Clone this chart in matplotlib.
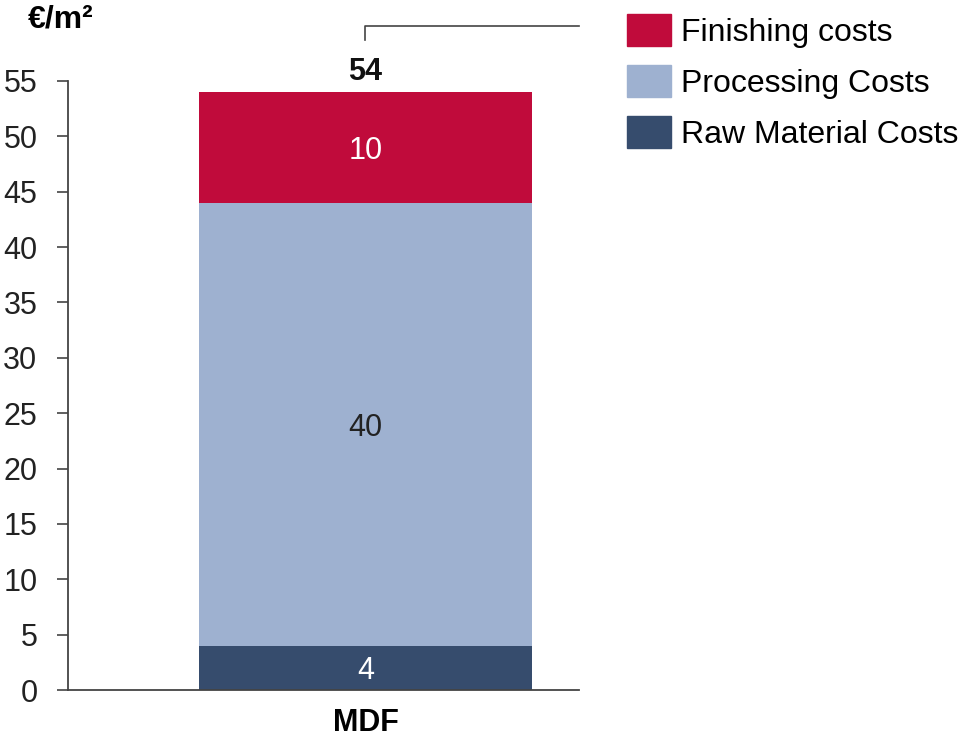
import matplotlib.pyplot as plt
from matplotlib.patches import Patch

plt.rcParams['font.family'] = ['Liberation Sans', 'DejaVu Sans']

categories = ['MDF']
series_names = ['Raw Material Costs', 'Processing Costs', 'Finishing costs']
raw_material = [4]
processing = [40]
finishing = [10]
totals = [54]
y_ticks = [0, 5, 10, 15, 20, 25, 30, 35, 40, 45, 50, 55]

colors = ['#364c6d', '#9eb1d0', '#c00b3b']
label_colors = ['white', '#222222', 'white']
fs = 22

fig = plt.figure(figsize=(9.58, 7.41), dpi=100)
ax = fig.add_axes([68 / 958, 1 - 690 / 741, 511 / 958, 609 / 741])

x = list(range(len(categories)))
bottom = [0] * len(categories)
for name, vals, col, lc in zip(series_names, [raw_material, processing, finishing], colors, label_colors):
    ax.bar(x, vals, width=1.0, bottom=bottom, color=col, label=name, linewidth=0)
    for xi, v, b in zip(x, vals, bottom):
        ax.text(xi, b + v / 2, str(v), ha='center', va='center_baseline', fontsize=fs, color=lc)
    bottom = [b + v for b, v in zip(bottom, vals)]

for xi, t in zip(x, totals):
    ax.text(xi, t + 1.1, str(t), ha='center', va='baseline', fontsize=fs, fontweight='bold', color='#111111')

ax.set_xlim(-0.893, 0.641)
ax.set_ylim(0, 55)
ax.set_yticks(y_ticks)
ax.set_xticks(x)
ax.set_xticklabels(categories, fontsize=fs, fontweight='bold')
ax.tick_params(axis='y', labelsize=fs, length=8, width=1.2, color='#444444', pad=14, labelcolor='#222222')
ax.tick_params(axis='x', length=0, pad=13)
for s in ['top', 'right']:
    ax.spines[s].set_visible(False)
for s in ['left', 'bottom']:
    ax.spines[s].set_color('#444444')
    ax.spines[s].set_linewidth(1.3)

# bracket from the total label over to the legend side
ax.plot([0, 0, 0.641], [58.7, 60, 60], color='#444444', lw=1.2, clip_on=False)

fig.text(28 / 958, 1 - 19 / 741, '€/m²', fontsize=23, fontweight='bold', va='center', ha='left')

handles = [Patch(color=c) for c in colors][::-1]
fig.legend(handles, series_names[::-1], loc='upper left', bbox_to_anchor=(627 / 958, 1 - 14 / 741),
           frameon=False, fontsize=23, borderpad=0, borderaxespad=0, handlelength=1.38,
           handleheight=1.15, labelspacing=0.54, handletextpad=0.31)

fig.savefig('out.png', dpi=100)
